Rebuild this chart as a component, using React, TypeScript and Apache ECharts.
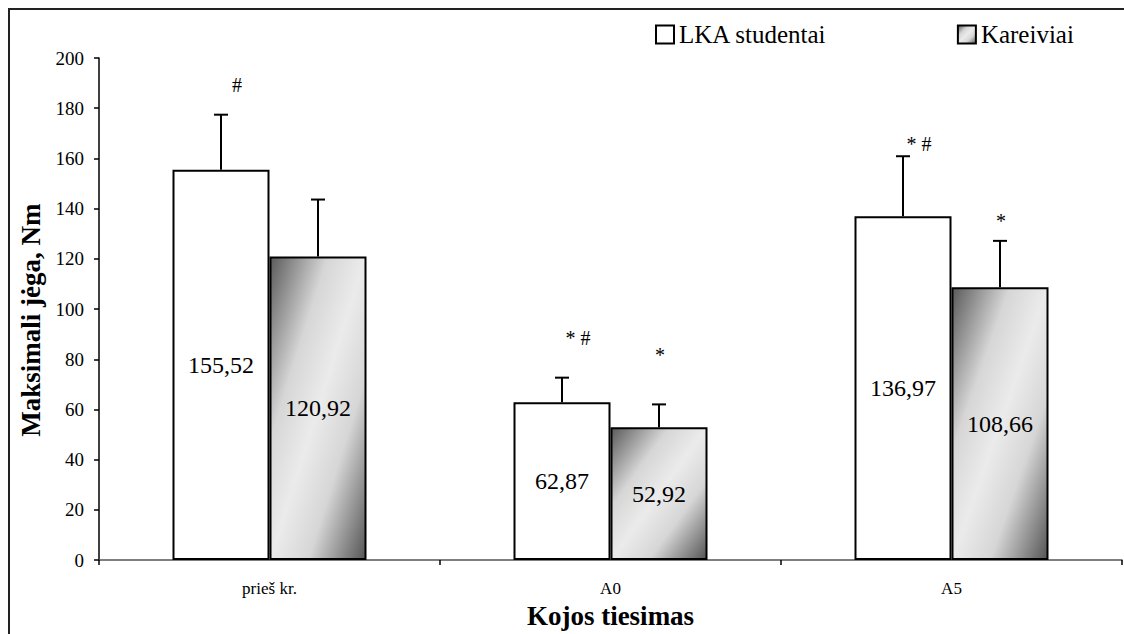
import React, { useEffect, useRef } from "react";
import * as echarts from "echarts";

const categories = ["prieš kr.", "A0", "A5"];
const seriesNames = ["LKA studentai", "Kareiviai"];
const lkaValues = [155.52, 62.87, 136.97];
const karValues = [120.92, 52.92, 108.66];
const lkaSD = [21.9, 9.8, 23.9];
const karSD = [22.7, 9.1, 18.5];
const lkaMarks = ["#", "* #", "* #"];
const karMarks = ["", "*", "*"];
const lkaMarkY = [189.3, 88.5, 165.9];
const karMarkY = [0, 81.7, 134.9];
const yTicks = { min: 0, max: 200, interval: 20 };

const FONT = "Liberation Serif";
const BAR_W = 97;

const karGradient = new echarts.graphic.LinearGradient(0, 0, 1, 1, [
  { offset: 0, color: "#5a5a5a" },
  { offset: 0.3, color: "#d6d6d6" },
  { offset: 0.5, color: "#ebebeb" },
  { offset: 0.7, color: "#d6d6d6" },
  { offset: 1, color: "#555555" },
]);

function errorSeries(
  name: string,
  values: number[],
  sds: number[],
  marks: string[],
  markY: number[],
  offset: number
) {
  return {
    type: "custom",
    name: name + "-err",
    z: 10,
    clip: false,
    data: values.map((v, i) => [i, v, v + sds[i], markY[i]]),
    renderItem: (params: any, api: any) => {
      const ci = api.value(0);
      const mean = api.value(1);
      const top = api.value(2);
      const my = api.value(3);
      const base = api.coord([ci, mean]);
      const tp = api.coord([ci, top]);
      const x = base[0] + offset;
      const children: any[] = [
        {
          type: "line",
          shape: { x1: x, y1: base[1], x2: x, y2: tp[1] },
          style: { stroke: "#000", lineWidth: 2 },
        },
        {
          type: "line",
          shape: { x1: x - 7, y1: tp[1], x2: x + 7, y2: tp[1] },
          style: { stroke: "#000", lineWidth: 2 },
        },
      ];
      const label = marks[params.dataIndex];
      if (label) {
        const mp = api.coord([ci, my]);
        children.push({
          type: "text",
          x: x + (label.indexOf("#") >= 0 ? 16 : 1),
          y: mp[1],
          style: {
            text: label,
            fontSize: 20,
            fontFamily: FONT,
            fill: "#000",
            align: "center",
            verticalAlign: "middle",
          },
        });
      }
      return { type: "group", children };
    },
  };
}

export default function App() {
  const ref = useRef<HTMLDivElement>(null);
  useEffect(() => {
    if (!ref.current) return;
    const chart = echarts.init(ref.current, null, { renderer: "svg" });
    const labelFmt = (p: any) => Number(p.value).toFixed(2).replace(".", ",");
    chart.setOption({
      animation: false,
      backgroundColor: "#fff",
      textStyle: { fontFamily: FONT },
      grid: { left: 99, right: 2, top: 58, bottom: 72, containLabel: false },
      legend: {
        data: seriesNames,
        left: 650,
        top: 17,
        itemWidth: 18,
        itemHeight: 18,
        itemGap: 130,
        icon: "rect",
        textStyle: { fontSize: 25, fontFamily: FONT, color: "#000" },
      },
      graphic: [
        {
          type: "rect",
          shape: { x: 9, y: 9, width: 1300, height: 800 },
          style: { fill: "none", stroke: "#222", lineWidth: 2 },
          silent: true,
          z: -1,
        },
      ],
      xAxis: {
        type: "category",
        data: categories,
        name: "Kojos tiesimas",
        nameLocation: "middle",
        nameGap: 26,
        nameTextStyle: { fontSize: 27, fontWeight: "bold", fontFamily: FONT, color: "#000" },
        axisLine: { lineStyle: { color: "#555", width: 1.5 } },
        axisTick: { show: true, length: 5, lineStyle: { color: "#000", width: 1.5 } },
        axisLabel: { fontSize: 17, fontFamily: FONT, color: "#000", margin: 20 },
      },
      yAxis: {
        type: "value",
        min: yTicks.min,
        max: yTicks.max,
        interval: yTicks.interval,
        name: "Maksimali jėga, Nm",
        nameLocation: "middle",
        nameGap: 54,
        nameTextStyle: {
          fontSize: 27,
          fontWeight: "bold",
          fontFamily: FONT,
          color: "#000",
          padding: [0, 22, 0, 0],
        },
        axisLine: { show: true, lineStyle: { color: "#000", width: 1.5 } },
        axisTick: { show: true, length: 5, lineStyle: { color: "#000", width: 1.5 } },
        axisLabel: { fontSize: 19, fontFamily: FONT, color: "#000", margin: 15 },
        splitLine: { show: false },
      },
      series: [
        {
          type: "bar",
          name: seriesNames[0],
          data: lkaValues,
          barWidth: BAR_W,
          barGap: "0%",
          itemStyle: { color: "#fff", borderColor: "#000", borderWidth: 2 },
          label: {
            show: true,
            position: "inside",
            formatter: labelFmt,
            fontSize: 24,
            fontFamily: FONT,
            color: "#000",
          },
        },
        {
          type: "bar",
          name: seriesNames[1],
          data: karValues,
          barWidth: BAR_W,
          barGap: "0%",
          itemStyle: { color: karGradient, borderColor: "#000", borderWidth: 2 },
          label: {
            show: true,
            position: "inside",
            formatter: labelFmt,
            fontSize: 24,
            fontFamily: FONT,
            color: "#000",
          },
        },
        errorSeries(seriesNames[0], lkaValues, lkaSD, lkaMarks, lkaMarkY, -BAR_W / 2),
        errorSeries(seriesNames[1], karValues, karSD, karMarks, karMarkY, BAR_W / 2),
      ],
    });
    return () => chart.dispose();
  }, []);
  return (
    <div
      ref={ref}
      style={{ position: "absolute", left: 0, top: 0, width: 1124, height: 634 }}
    />
  );
}
